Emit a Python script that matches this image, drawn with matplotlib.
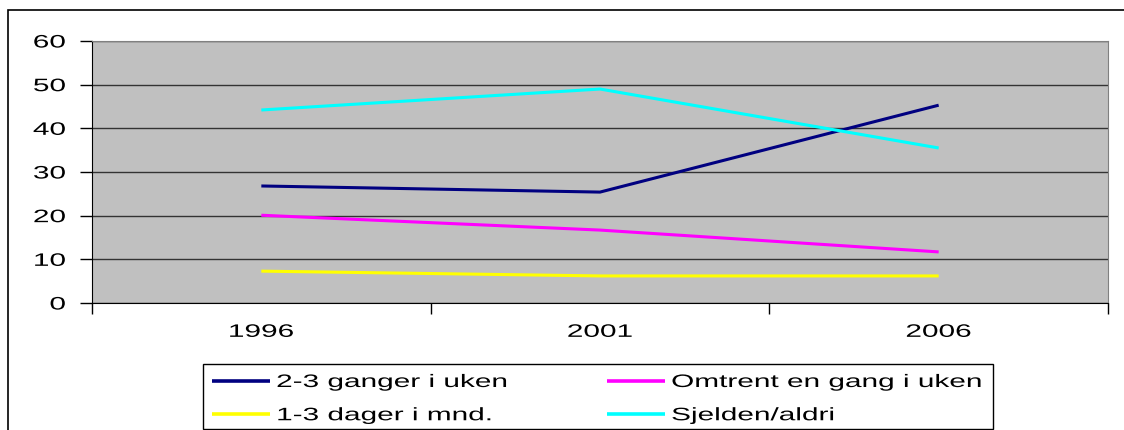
import matplotlib.pyplot as plt
from matplotlib.patches import Rectangle
from matplotlib.patheffects import AbstractPathEffect
from matplotlib.transforms import Affine2D

plt.rcParams['font.family'] = ['Liberation Sans', 'DejaVu Sans']

# data
years = ['1996', '2001', '2006']
ganger_2_3 = [26.8, 25.4, 45.3]
omtrent_en_gang = [20.1, 16.7, 11.7]
dager_1_3 = [7.3, 6.2, 6.2]
sjelden_aldri = [44.2, 49.0, 35.5]
labels = ['2-3 ganger i uken', 'Omtrent en gang i uken',
          '1-3 dager i mnd.', 'Sjelden/aldri']
colors = ['#000080', '#FF00FF', '#FFFF00', '#00FFFF']


class Stretch(AbstractPathEffect):
    """stretch glyphs horizontally (the reference text is widened)"""

    def __init__(self, sx, anchor='left'):
        super().__init__()
        self.sx = sx
        self.anchor = anchor

    def draw_path(self, renderer, gc, tpath, affine, rgbFace=None):
        ext = tpath.get_extents()
        if self.anchor == 'right':
            cx = ext.x1
        elif self.anchor == 'center':
            cx = (ext.x0 + ext.x1) / 2
        else:
            cx = 0
        t = Affine2D().translate(-cx, 0).scale(self.sx, 1).translate(cx, 0) + affine
        renderer.draw_path(gc, tpath, t, rgbFace)


SX = 1.65
FS = 13

W, H = 1124, 431
fig = plt.figure(figsize=(W / 100, H / 100), dpi=100)
ax = fig.add_axes([92 / W, 1 - 304 / H, (1108 - 92) / W, (304 - 42) / H])
ax.set_facecolor('#C0C0C0')

# outer chart frame (right/bottom run off the image)
fig.patches.append(Rectangle((8 / W, -0.1), 1.2, 1 - 11 / H + 0.1,
                             transform=fig.transFigure, fill=False,
                             edgecolor='black', linewidth=1.2))

x = list(range(len(years)))
series = [ganger_2_3, omtrent_en_gang, dager_1_3, sjelden_aldri]
handles = []
for vals, c, lab in zip(series, colors, labels):
    h, = ax.plot(x, vals, color=c, linewidth=2.2, label=lab,
                 solid_capstyle='butt', zorder=3)
    handles.append(h)

ax.set_xlim(-0.5, 2.5)
ax.set_ylim(0, 60)
ax.set_yticks(range(0, 61, 10))
ax.yaxis.grid(True, color='#333333', linewidth=1)
ax.set_axisbelow(True)

ax.set_xticks(x)
ax.set_xticklabels(years)
ax.set_xticks([-0.5, 0.5, 1.5, 2.5], minor=True)
ax.tick_params(axis='x', which='major', length=0, pad=15, labelsize=FS)
ax.tick_params(axis='x', which='minor', length=8, width=1, direction='out')
ax.tick_params(axis='y', length=9, width=1, direction='out', pad=10, labelsize=FS)
for t in ax.get_xticklabels():
    t.set_path_effects([Stretch(SX, 'center')])
for t in ax.get_yticklabels():
    t.set_path_effects([Stretch(SX, 'right')])

ax.spines['left'].set_color('black')
ax.spines['bottom'].set_color('black')
ax.spines['top'].set_color('#808080')
ax.spines['right'].set_color('#808080')

# legend: two single-column legends inside one frame
fig.patches.append(Rectangle((203 / W, 1 - 430 / H), (993 - 203) / W, (430 - 365) / H,
                             transform=fig.transFigure, fill=False,
                             edgecolor='black', linewidth=1))
leg_kw = dict(loc='upper left', fontsize=FS, frameon=False, handlelength=3.2,
              handletextpad=0.35, borderpad=0, labelspacing=0.9,
              borderaxespad=0)
leg1 = fig.legend([handles[0], handles[2]], [labels[0], labels[2]],
                  bbox_to_anchor=(212 / W, 1 - 375 / H), **leg_kw)
leg2 = fig.legend([handles[1], handles[3]], [labels[1], labels[3]],
                  bbox_to_anchor=(607 / W, 1 - 375 / H), **leg_kw)
for leg in (leg1, leg2):
    for t in leg.get_texts():
        t.set_path_effects([Stretch(SX, 'left')])
    for ln in leg.get_lines():
        ln.set_linewidth(2.6)

fig.savefig('out.png', dpi=100)
